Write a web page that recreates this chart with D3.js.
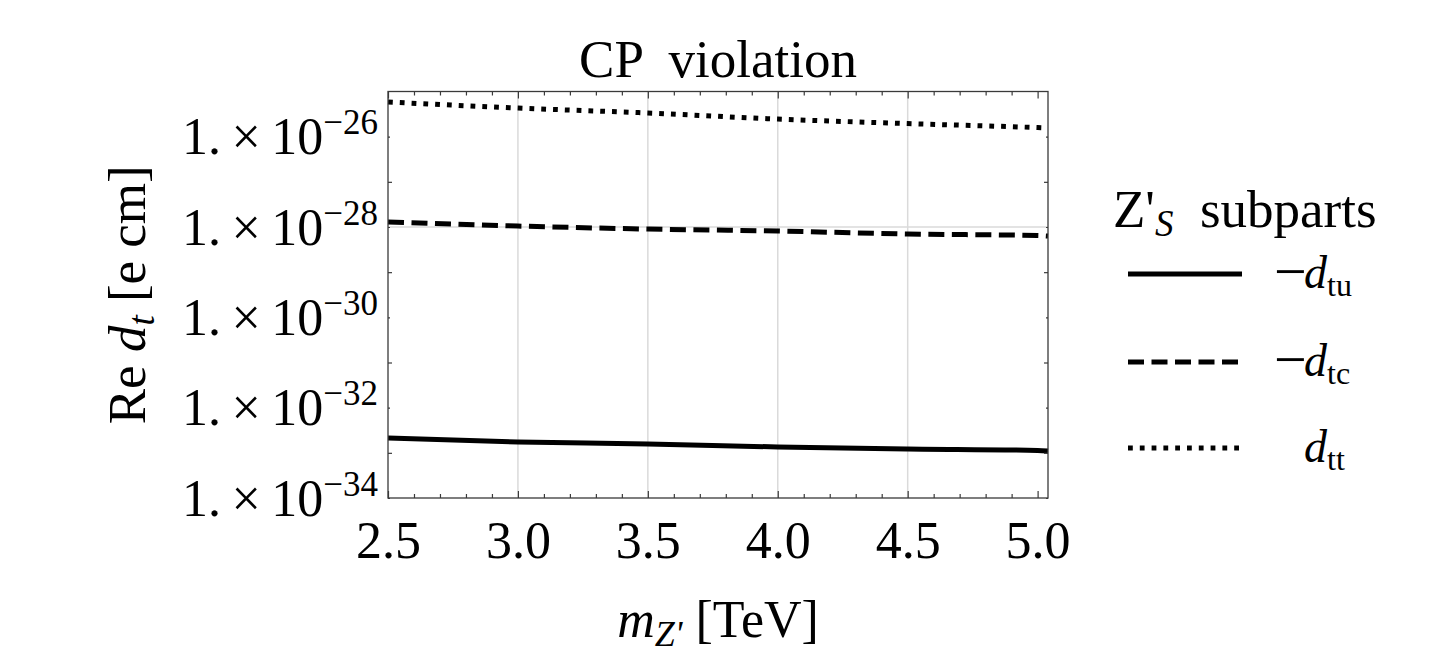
<!DOCTYPE html>
<meta charset="utf-8">
<title>CP violation</title>
<style>
body { margin: 0; background: #fff; }
svg text { font-family: "Liberation Serif", "Times New Roman", serif; fill: #000; }
.frame { fill: none; stroke: #3a3a3a; stroke-width: 1.3px; }
.grid line { stroke: #dadada; stroke-width: 1.5px; }
.axis path.domain { stroke: none; }
.axis line { stroke: #3a3a3a; stroke-width: 1.2px; }
.series { fill: none; stroke: #000; stroke-width: 5px; }
</style>
<svg class="chart" width="1447" height="656"></svg>
<script src="https://d3js.org/d3.v7.min.js"></script>
<script>

// Z' mass (TeV) and the three subparts of Re d_t (e cm)
var mass = [2.5, 3.0, 3.5, 4.0, 4.5, 5.0, 5.04];
var dTu = [2.13e-33, 1.74e-33, 1.57e-33, 1.35e-33, 1.22e-33, 1.13e-33, 1.10e-33];
var dTc = [1.29e-28, 1.05e-28, 9.0e-29, 8.15e-29, 7.0e-29, 6.47e-29, 6.3e-29];
var dTt = [5.85e-26, 4.3e-26, 3.34e-26, 2.45e-26, 1.95e-26, 1.59e-26, 1.56e-26];

var seriesNames = ["tu", "tc", "tt"];
var seriesSigns = ["\u2212", "\u2212", ""];
var seriesDash = ["none", "16,7.5", "4.8,7"];

var xTicks = [2.5, 3.0, 3.5, 4.0, 4.5, 5.0];
var xGrid = [3.0, 3.5, 4.0, 4.5];
var yTickExps = [-26, -28, -30, -32, -34];
var yGrid = [1e-28];

var plot = {left: 388, right: 1048, top: 91.5, bottom: 498};

var x = d3.scaleLinear()
    .domain([2.5, 5.04])
    .range([plot.left, plot.right]);

var y = d3.scaleLog()
    .domain([1e-34, 1e-25])
    .range([plot.bottom, plot.top]);

var svg = d3.select(".chart");

// grid lines
var grid = svg.append("g").attr("class", "grid");
grid.selectAll(".gx").data(xGrid).enter().append("line")
    .attr("x1", function(d) { return x(d); })
    .attr("x2", function(d) { return x(d); })
    .attr("y1", plot.top)
    .attr("y2", plot.bottom);
grid.selectAll(".gy").data(yGrid).enter().append("line")
    .attr("x1", plot.left)
    .attr("x2", plot.right)
    .attr("y1", function(d) { return y(d); })
    .attr("y2", function(d) { return y(d); });

// curves
var line = d3.line()
    .x(function(d) { return x(d[0]); })
    .y(function(d) { return y(d[1]); })
    .curve(d3.curveMonotoneX);

[dTu, dTc, dTt].forEach(function(vals, i) {
  svg.append("path")
      .attr("class", "series")
      .attr("d", line(d3.zip(mass, vals)))
      .attr("stroke-dasharray", seriesDash[i]);
});

// ticks
var xMinor = d3.range(25, 51).map(function(d) { return d / 10; })
    .filter(function(d) { return xTicks.indexOf(d) < 0; });
var yMinor = [-27, -29, -31, -33].map(function(e) { return Math.pow(10, e); });
var yMajor = yTickExps.map(function(e) { return Math.pow(10, e); });

svg.append("g")
    .attr("class", "axis x")
    .attr("transform", "translate(0," + plot.bottom + ")")
    .call(d3.axisBottom(x).tickValues(xTicks).tickSize(-7).tickPadding(23)
        .tickFormat(d3.format(".1f")))
    .attr("font-size", 52)
    .attr("font-family", null);

svg.append("g")
    .attr("class", "axis")
    .attr("transform", "translate(0," + plot.bottom + ")")
    .call(d3.axisBottom(x).tickValues(xMinor).tickSize(-4).tickFormat(""));

svg.append("g")
    .attr("class", "axis")
    .attr("transform", "translate(0," + plot.top + ")")
    .call(d3.axisTop(x).tickValues(xTicks).tickSize(-7).tickFormat(""));

svg.append("g")
    .attr("class", "axis")
    .attr("transform", "translate(0," + plot.top + ")")
    .call(d3.axisTop(x).tickValues(xMinor).tickSize(-4).tickFormat(""));

var yAxis = svg.append("g")
    .attr("class", "axis y")
    .attr("transform", "translate(" + plot.left + ",0)")
    .call(d3.axisLeft(y).tickValues(yMajor).tickSize(-2).tickPadding(10).tickFormat(""))
    .attr("font-size", 52)
    .attr("font-family", null);

yAxis.selectAll(".tick text")
    .attr("dy", "0.33em")
    .each(function(d, i) {
      var t = d3.select(this);
      t.append("tspan").style("white-space", "pre").text("1.\u2009\u00d7\u200910");
      t.append("tspan")
          .attr("font-size", 35)
          .attr("dy", -20)
          .text("\u2212" + Math.abs(yTickExps[i]));
    });

svg.append("g")
    .attr("class", "axis")
    .attr("transform", "translate(" + plot.left + ",0)")
    .call(d3.axisLeft(y).tickValues(yMinor).tickSize(-4).tickFormat(""));

svg.append("g")
    .attr("class", "axis")
    .attr("transform", "translate(" + plot.right + ",0)")
    .call(d3.axisRight(y).tickValues(yMinor).tickSize(-4).tickFormat(""));

svg.append("g")
    .attr("class", "axis")
    .attr("transform", "translate(" + plot.right + ",0)")
    .call(d3.axisRight(y).tickValues(yMajor).tickSize(-2).tickFormat(""));

// frame
svg.append("rect")
    .attr("class", "frame")
    .attr("x", plot.left)
    .attr("y", plot.top)
    .attr("width", plot.right - plot.left)
    .attr("height", plot.bottom - plot.top);

// title
svg.append("text")
    .attr("x", (plot.left + plot.right) / 2)
    .attr("y", 77)
    .attr("font-size", 53)
    .attr("text-anchor", "middle")
    .style("white-space", "pre")
    .text("CP  violation");

// y axis label
var yLab = svg.append("text")
    .attr("transform", "translate(145," + ((plot.top + plot.bottom) / 2) + ") rotate(-90)")
    .attr("font-size", 53)
    .attr("text-anchor", "middle");
yLab.append("tspan").text("Re ");
yLab.append("tspan").attr("font-style", "italic").text("d");
yLab.append("tspan").attr("font-style", "italic").attr("font-size", 37).attr("dy", 9).text("t");
yLab.append("tspan").attr("dy", -9).style("white-space", "pre").text(" [e cm]");

// x axis label
var xLab = svg.append("text")
    .attr("x", (plot.left + plot.right) / 2)
    .attr("y", 637)
    .attr("font-size", 52)
    .attr("text-anchor", "middle");
xLab.append("tspan").attr("font-style", "italic").text("m");
xLab.append("tspan").attr("font-style", "italic").attr("font-size", 36).attr("dy", 9).text("Z'");
xLab.append("tspan").attr("dy", -9).style("white-space", "pre").text(" [TeV]");

// legend
var legend = svg.append("g").attr("class", "legend");

var lt = legend.append("text")
    .attr("x", 1113)
    .attr("y", 227)
    .attr("font-size", 53)
    .style("white-space", "pre");
lt.append("tspan").text("Z'");
lt.append("tspan").attr("font-style", "italic").attr("font-size", 37).attr("dy", 9).text("S");
lt.append("tspan").attr("dy", -9).text("  subparts");

var legendY = [274, 362, 448];

seriesNames.forEach(function(name, i) {
  legend.append("line")
      .attr("class", "series")
      .attr("x1", 1128)
      .attr("x2", 1242)
      .attr("y1", legendY[i])
      .attr("y2", legendY[i])
      .attr("stroke-dasharray", seriesDash[i]);

  legend.append("text")
      .attr("x", 1274)
      .attr("y", legendY[i] + 17)
      .attr("font-size", 58)
      .text(seriesSigns[i]);

  var lab = legend.append("text")
      .attr("x", 1304)
      .attr("y", legendY[i] + 14)
      .attr("font-size", 46);
  lab.append("tspan").attr("font-style", "italic").text("d");
  lab.append("tspan").attr("font-size", 32).attr("dy", 8).text(name);
});

</script>
